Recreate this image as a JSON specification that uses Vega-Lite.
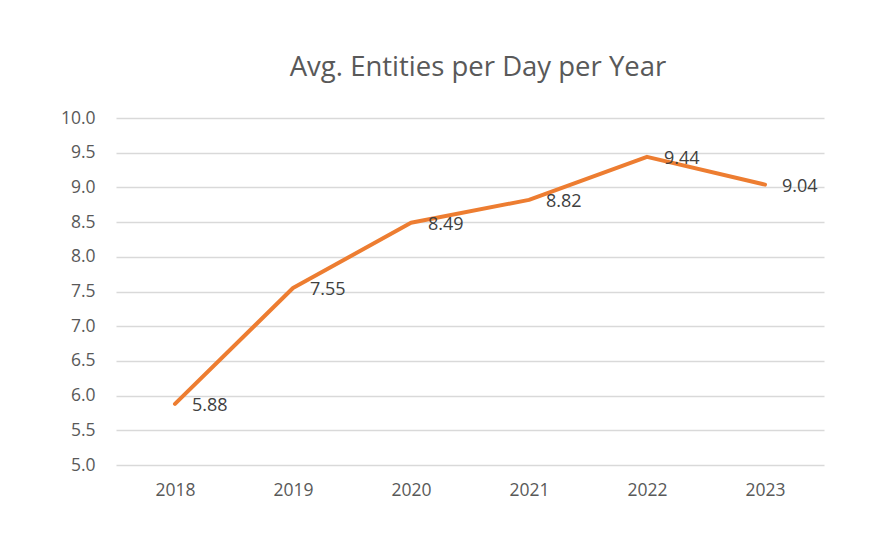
{
  "$schema": "https://vega.github.io/schema/vega-lite/v6.json",
  "width": 708,
  "height": 347,
  "autosize": {"type": "none"},
  "padding": {"left": 116, "top": 118, "right": 46, "bottom": 70},
  "background": "white",
  "config": {
    "view": {"stroke": null},
    "font": "Open Sans",
    "axis": {"labelFont": "Open Sans", "labelColor": "#595959", "labelFontSize": 17.5}
  },
  "title": {
    "text": "Avg. Entities per Day per Year",
    "font": "Open Sans",
    "fontSize": 27.5,
    "fontWeight": "normal",
    "color": "#595959",
    "anchor": "middle",
    "dx": 8,
    "offset": 28
  },
  "data": {
    "values": [
      {"year": "2018", "value": 5.88},
      {"year": "2019", "value": 7.55},
      {"year": "2020", "value": 8.49},
      {"year": "2021", "value": 8.82},
      {"year": "2022", "value": 9.44},
      {"year": "2023", "value": 9.04}
    ]
  },
  "encoding": {
    "x": {
      "field": "year",
      "type": "ordinal",
      "scale": {"paddingInner": 0, "paddingOuter": 0.5},
      "axis": {"title": null, "labelAngle": 0, "domain": false, "ticks": false, "labelPadding": 16, "grid": false}
    },
    "y": {
      "field": "value",
      "type": "quantitative",
      "scale": {"domain": [5, 10], "nice": false, "zero": false},
      "axis": {"title": null, "values": [5, 5.5, 6, 6.5, 7, 7.5, 8, 8.5, 9, 9.5, 10], "format": ".1f", "domain": false, "ticks": false, "labelPadding": 21, "gridColor": "#d9d9d9", "gridWidth": 1.3}
    }
  },
  "layer": [
    {
      "mark": {"type": "line", "color": "#ED7D31", "strokeWidth": 4, "strokeCap": "round", "strokeJoin": "round"}
    },
    {
      "mark": {"type": "text", "align": "left", "baseline": "middle", "dx": 17, "dy": 2, "fontSize": 18, "color": "#404040"},
      "encoding": {"text": {"field": "value", "type": "quantitative", "format": ".2f"}}
    }
  ]
}
